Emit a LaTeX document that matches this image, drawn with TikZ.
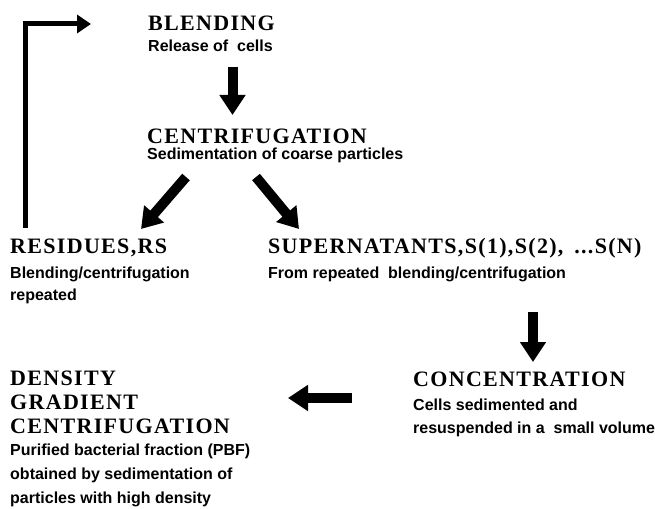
\documentclass[tikz,border=0pt]{standalone}
\usepackage{fontspec}
\setmainfont{Liberation Serif}
\newfontfamily\ttlfont{Liberation Serif}[LetterSpace=6]
\newfontfamily\helvfont{Liberation Sans}
\usetikzlibrary{arrows.meta}
\begin{document}
\begin{tikzpicture}[x=1pt,y=-1pt,
  head/.style={anchor=base west, inner sep=0, font=\ttlfont\bfseries\fontsize{22}{22}\selectfont},
  sub/.style={anchor=base west, inner sep=0, font=\helvfont\bfseries\fontsize{16}{16}\selectfont},
  blk/.style={line width=10pt, -{Triangle[width=25pt,length=20pt]}},
  fb/.style={line width=5pt, -{Triangle[width=18pt,length=14pt]}}]
\useasboundingbox (0,0) rectangle (655,508);
% texts
\node[head] (blend) at (148,31) {BLENDING};
\node[sub] (blendS) at (148,52) {Release of \ cells};
\node[head] (centr) at (147,143) {CENTRIFUGATION};
\node[sub] (centrS) at (147,159) {Sedimentation of coarse particles};
\node[head] (res) at (10,253) {RESIDUES,RS};
\node[sub] (resS1) at (10,278) {Blending/centrifugation};
\node[sub] (resS2) at (10,300) {repeated};
\node[head] (sup) at (268,253) {SUPERNATANTS,S(1),S(2),\hspace{4pt} ...S(N)};
\node[sub] (supS) at (268,278) {From repeated \ blending/centrifugation};
\node[head] (conc) at (413,386) {CONCENTRATION};
\node[sub] (concS1) at (413,410) {Cells sedimented and};
\node[sub] (concS2) at (413,433) {resuspended in a \ small volume};
\node[head] (dens1) at (10,385) {DENSITY};
\node[head] (dens2) at (10,409) {GRADIENT};
\node[head] (dens3) at (10,433) {CENTRIFUGATION};
\node[sub] (densS1) at (10,455) {Purified bacterial fraction (PBF)};
\node[sub] (densS2) at (10,479) {obtained by sedimentation of};
\node[sub] (densS3) at (10,503) {particles with high density};
% arrow end points
\coordinate (a1s) at (232.5,67);
\coordinate (a1e) at (232.5,115);
\coordinate (a2s) at (186,177);
\coordinate (a2e) at (141,229);
\coordinate (a3s) at (256,177);
\coordinate (a3e) at (299,229);
\coordinate (a4s) at (533,312);
\coordinate (a4e) at (533,362);
\coordinate (a5s) at (352,398);
\coordinate (a5e) at (288,398);
\coordinate (fbs) at (25,228);
\coordinate (fbe) at (91,24);
\draw[blk] (a1s) -- (a1e);
\draw[blk] (a2s) -- (a2e);
\draw[blk] (a3s) -- (a3e);
\draw[blk] (a4s) -- (a4e);
\draw[blk] (a5s) -- (a5e);
\draw[fb] (fbs) |- (fbe);
\end{tikzpicture}
\end{document}
